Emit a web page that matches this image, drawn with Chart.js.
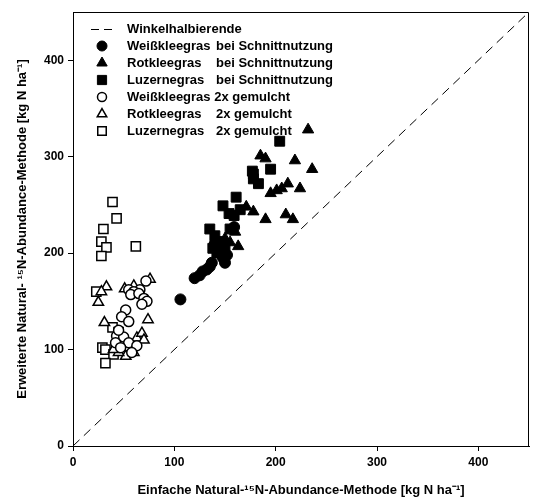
<!DOCTYPE html>
<html>
<head>
<meta charset="utf-8">
<script src="https://cdn.jsdelivr.net/npm/chart.js@4.4.1/dist/chart.umd.min.js"></script>
<style>
html,body{margin:0;padding:0;background:#fff;}
#wrap{width:537px;height:504px;position:relative;}
</style>
</head>
<body>
<div id="wrap"><canvas id="c" width="537" height="504"></canvas></div>
<script>
// ---- data ----
const xTicks = [0, 100, 200, 300, 400];
const yTicks = [0, 100, 200, 300, 400];
const axisMax = 450;

const diagonal = [{x: 0, y: 0}, {x: 450, y: 450}];

const weissSchnittX = [106, 120, 125, 128, 132, 137, 145, 148, 150, 143, 140, 159, 135, 152];
const weissSchnittY = [152, 174, 177, 181, 183, 190, 200, 195, 190, 205, 210, 227, 186, 198];

const rotSchnittX = [232, 185, 190, 219, 236, 206, 201, 212, 171, 190, 163, 150, 160, 210, 217, 178, 195, 145, 155, 224];
const rotSchnittY = [328, 301, 298, 296, 287, 267, 265, 272, 248, 235, 207, 215, 222, 240, 235, 243, 262, 205, 211, 267];

const luzSchnittX = [204, 177, 195, 178, 183, 161, 148, 154, 159, 135, 140, 146, 150, 142, 138, 178, 165, 155];
const luzSchnittY = [316, 285, 287, 277, 272, 258, 249, 241, 239, 225, 218, 212, 206, 200, 205, 282, 245, 225];

const weissMulchX = [72, 66, 55, 60, 57, 65, 70, 73, 68, 52, 48, 55, 43, 50, 42, 55, 47, 63, 58, 45];
const weissMulchY = [171, 162, 162, 160, 157, 158, 153, 150, 147, 141, 134, 129, 114, 113, 107, 107, 102, 104, 97, 120];

const rotMulchX = [76, 33, 25, 51, 60, 31, 63, 55, 52, 45, 60, 74, 68, 70, 40, 28];
const rotMulchY = [173, 165, 149, 163, 166, 128, 112, 102, 93, 97, 97, 131, 117, 110, 100, 160];

const luzMulchX = [39, 43, 30, 28, 33, 28, 62, 23, 39, 45, 29, 32, 43, 40, 32];
const luzMulchY = [253, 236, 225, 212, 206, 197, 207, 160, 123, 118, 102, 100, 100, 95, 86];

const labels = [
  'Winkelhalbierende',
  'Weißkleegras\tbei Schnittnutzung',
  'Rotkleegras\tbei Schnittnutzung',
  'Luzernegras\tbei Schnittnutzung',
  'Weißkleegras 2x gemulcht',
  'Rotkleegras\t2x gemulcht',
  'Luzernegras\t2x gemulcht'
];
const xTitle = 'Einfache Natural-¹⁵N-Abundance-Methode [kg N ha⁻¹]';
const yTitle = 'Erweiterte Natural- ¹⁵N-Abundance-Methode [kg N ha⁻¹]';

// ---- build ----
function pts(xs, ys) { return xs.map((x, i) => ({x: x, y: ys[i]})); }
const FONT = "'Liberation Sans', Arial, sans-serif";

function scatterSet(label, xs, ys, style, filled, radius) {
  return {
    type: 'scatter',
    label: label,
    data: pts(xs, ys),
    pointStyle: style,
    pointRadius: radius,
    pointHoverRadius: radius,
    pointBackgroundColor: filled ? '#000' : '#fff',
    pointBorderColor: '#000',
    pointBorderWidth: filled ? 1 : 1.5,
    showLine: false
  };
}

const datasets = [
  {
    type: 'line',
    label: labels[0],
    data: diagonal,
    borderColor: '#000',
    borderWidth: 1,
    borderDash: [9, 6],
    pointRadius: 0,
    fill: false
  },
  scatterSet(labels[1], weissSchnittX, weissSchnittY, 'circle', true, 5.5),
  scatterSet(labels[2], rotSchnittX, rotSchnittY, 'triangle', true, 6.5),
  scatterSet(labels[3], luzSchnittX, luzSchnittY, 'rect', true, 7),
  scatterSet(labels[4], weissMulchX, weissMulchY, 'circle', false, 5),
  scatterSet(labels[5], rotMulchX, rotMulchY, 'triangle', false, 6),
  scatterSet(labels[6], luzMulchX, luzMulchY, 'rect', false, 6.5)
];

const framePlugin = {
  id: 'frame',
  afterDraw(chart) {
    const a = chart.chartArea, ctx = chart.ctx;
    ctx.save();
    ctx.strokeStyle = '#000';
    ctx.lineWidth = 1;
    ctx.beginPath();
    ctx.moveTo(Math.round(a.left) + 0.5, Math.round(a.top) + 0.5);
    ctx.lineTo(Math.round(a.right) - 0.5, Math.round(a.top) + 0.5);
    ctx.lineTo(Math.round(a.right) - 0.5, Math.round(a.bottom) + 0.5);
    ctx.stroke();
    ctx.restore();
  }
};

const legendPlugin = {
  id: 'customLegend',
  afterDatasetsDraw(chart) {
    const ctx = chart.ctx;
    const x0 = 102, textX = 127, col2X = 216, y0 = 29, dy = 17;
    ctx.save();
    ctx.font = 'bold 13px ' + FONT;
    ctx.fillStyle = '#000';
    ctx.textBaseline = 'middle';
    chart.data.datasets.forEach((ds, i) => {
      const y = y0 + i * dy;
      if (ds.type === 'line') {
        ctx.save();
        ctx.strokeStyle = '#000';
        ctx.lineWidth = 1;
        ctx.setLineDash([8, 5]);
        ctx.beginPath();
        ctx.moveTo(91, y + 0.5);
        ctx.lineTo(115, y + 0.5);
        ctx.stroke();
        ctx.restore();
      } else {
        ctx.save();
        ctx.fillStyle = ds.pointBackgroundColor;
        ctx.strokeStyle = ds.pointBorderColor;
        ctx.lineWidth = ds.pointBorderWidth;
        Chart.helpers.drawPoint(ctx, {pointStyle: ds.pointStyle, radius: ds.pointRadius - 0.5, rotation: 0, borderWidth: ds.pointBorderWidth}, x0, y);
        ctx.restore();
      }
      const parts = ds.label.split('\t');
      ctx.fillText(parts[0], textX, y);
      if (parts.length > 1) ctx.fillText(parts[1], col2X, y);
    });
    ctx.restore();
  }
};

function onlyHundreds(scale) {
  scale.ticks = scale.ticks.filter(t => (scale.axis === 'x' ? xTicks : yTicks).includes(t.value));
}

new Chart(document.getElementById('c'), {
  data: {datasets: datasets},
  options: {
    responsive: false,
    animation: false,
    devicePixelRatio: 1,
    layout: {padding: {top: 12, right: 1, left: 0, bottom: 0}},
    plugins: {legend: {display: false}, tooltip: {enabled: false}},
    scales: {
      x: {
        type: 'linear',
        min: 0, max: axisMax,
        afterBuildTicks: onlyHundreds,
        afterFit(s) { s.height = 58; },
        ticks: {stepSize: 100, color: '#000', padding: 4, font: {family: FONT, size: 12, weight: 'bold'}, maxRotation: 0},
        grid: {drawOnChartArea: false, drawTicks: true, tickLength: 5, color: '#000', tickColor: '#000'},
        border: {display: true, color: '#000', width: 1},
        title: {display: true, text: xTitle, color: '#000', font: {family: FONT, size: 13, weight: 'bold'}, padding: {top: 0, bottom: 6}}
      },
      y: {
        type: 'linear',
        min: 0, max: axisMax,
        afterBuildTicks: onlyHundreds,
        afterFit(s) { s.width = 73; },
        ticks: {stepSize: 100, color: '#000', padding: 4, font: {family: FONT, size: 12, weight: 'bold'}},
        grid: {drawOnChartArea: false, drawTicks: true, tickLength: 5, color: '#000', tickColor: '#000'},
        border: {display: true, color: '#000', width: 1},
        title: {display: true, text: yTitle, color: '#000', font: {family: FONT, size: 13, weight: 'bold'}, padding: {top: 15, bottom: 0}}
      }
    }
  },
  plugins: [framePlugin, legendPlugin]
});
</script>
</body>
</html>
